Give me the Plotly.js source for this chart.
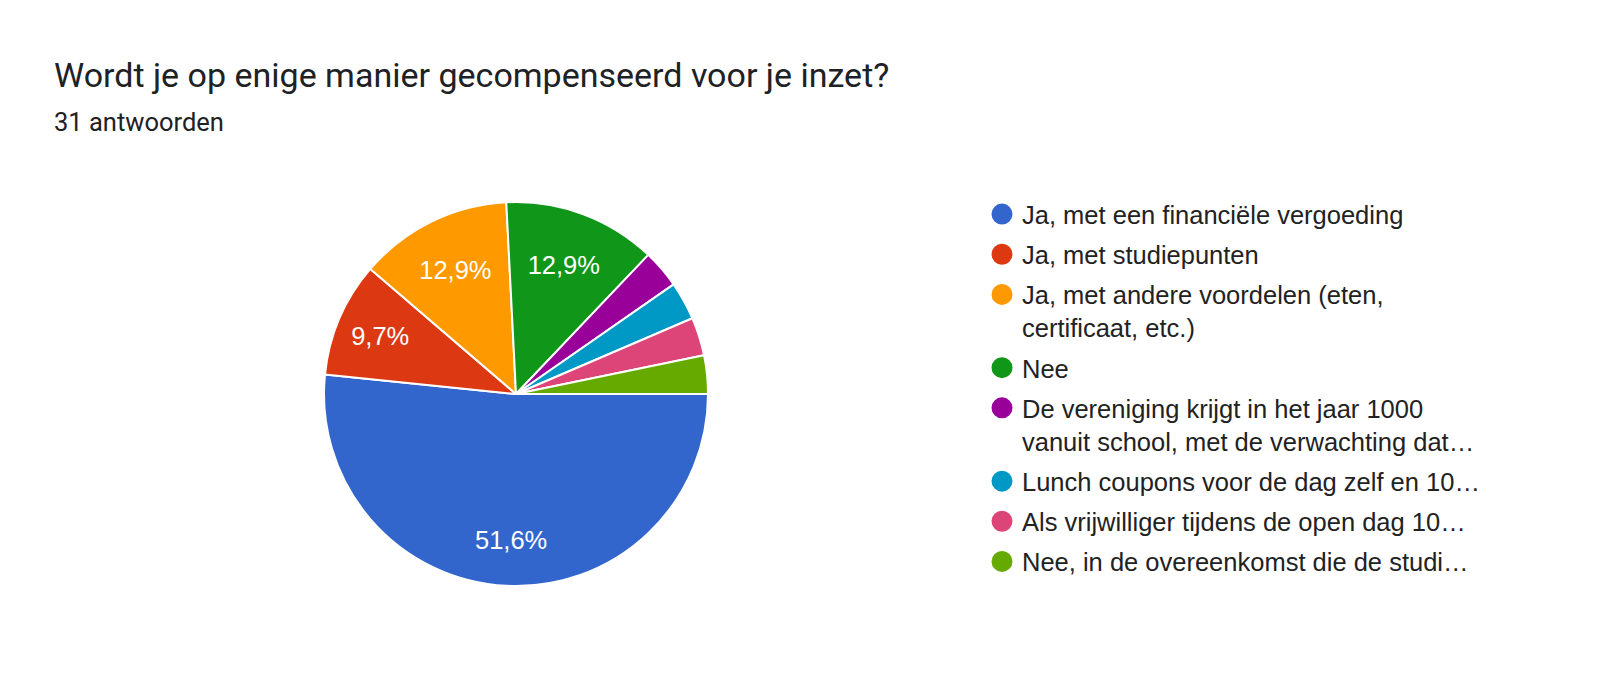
<!DOCTYPE html>
<html>
<head>
<meta charset="utf-8">
<script src="https://cdn.plot.ly/plotly-3.0.1.min.js"></script>
<style>
  html, body { margin: 0; padding: 0; background: #fff; }
  #chart { width: 1600px; height: 673px; }
</style>
</head>
<body>
<div id="chart"></div>
<script>
// answers, in the order of the form
var categories = [
  "Ja, met een financiële vergoeding",
  "Ja, met studiepunten",
  "Ja, met andere voordelen (eten,<br>certificaat, etc.)",
  "Nee",
  "De vereniging krijgt in het jaar 1000<br>vanuit school, met de verwachting dat…",
  "Lunch coupons voor de dag zelf en 10…",
  "Als vrijwilliger tijdens de open dag 10…",
  "Nee, in de overeenkomst die de studi…"
];
var counts = [16, 3, 4, 4, 1, 1, 1, 1];
var colors = ["#3366cc", "#dc3912", "#ff9900", "#109618", "#990099", "#0099c6", "#dd4477", "#66aa00"];
// google hides the label on the thin slices
var showLabel = [true, true, true, true, false, false, false, false];

var total = counts.reduce(function (a, b) { return a + b; }, 0);

// the big slice has its label further out than plotly puts it,
// so push it down with some empty lines above
var templates = showLabel.map(function (s, i) {
  if (!s) return "";
  if (i === 0) return "\u00a0<br>\u00a0<br>\u00a0<br>%{percent:.1%}";
  return "%{percent:.1%}";
});

var pie = {
  type: "pie",
  values: counts,
  labels: categories,
  marker: { colors: colors, line: { color: "#ffffff", width: 2 } },
  sort: false,
  direction: "clockwise",
  rotation: 90,
  texttemplate: templates,
  textposition: "inside",
  insidetextorientation: "horizontal",
  textfont: { family: "Liberation Sans, Arial, sans-serif", size: 25.5, color: "#ffffff" },
  hoverinfo: "none",
  showlegend: false,
  domain: { x: [324 / 1600, 708 / 1600], y: [87 / 673, 471 / 673] }
};

// empty scatter traces only to get round legend markers
var legendTraces = categories.map(function (c, i) {
  return {
    type: "scatter",
    mode: "markers",
    x: [null],
    y: [null],
    name: c,
    legendgroup: "g" + i,
    marker: { color: colors[i], size: 16, symbol: "circle", line: { color: colors[i], width: 5 } },
    hoverinfo: "none"
  };
});

var layout = {
  width: 1600,
  height: 673,
  margin: { l: 0, r: 0, t: 0, b: 0 },
  paper_bgcolor: "#ffffff",
  plot_bgcolor: "#ffffff",
  separators: ",.",
  xaxis: { visible: false },
  yaxis: { visible: false },
  showlegend: true,
  legend: {
    x: 982 / 1600,
    xanchor: "left",
    y: 1 - 191 / 673,
    yanchor: "top",
    traceorder: "grouped",
    tracegroupgap: 4,
    valign: "top",
    font: { family: "Liberation Sans, Arial, sans-serif", size: 25.5, color: "#222222" },
    bgcolor: "rgba(0,0,0,0)"
  },
  annotations: [
    {
      text: "Wordt je op enige manier gecompenseerd voor je inzet?",
      xref: "paper", yref: "paper",
      x: 52 / 1600, y: 1 - 75 / 673,
      xanchor: "left", yanchor: "middle",
      showarrow: false,
      font: { family: "Roboto, sans-serif", size: 34, color: "#202124" }
    },
    {
      text: total + " antwoorden",
      xref: "paper", yref: "paper",
      x: 52 / 1600, y: 1 - 122 / 673,
      xanchor: "left", yanchor: "middle",
      showarrow: false,
      font: { family: "Roboto, sans-serif", size: 25.5, color: "#202124" }
    }
  ]
};

Plotly.newPlot("chart", [pie].concat(legendTraces), layout, { staticPlot: true });
</script>
</body>
</html>
